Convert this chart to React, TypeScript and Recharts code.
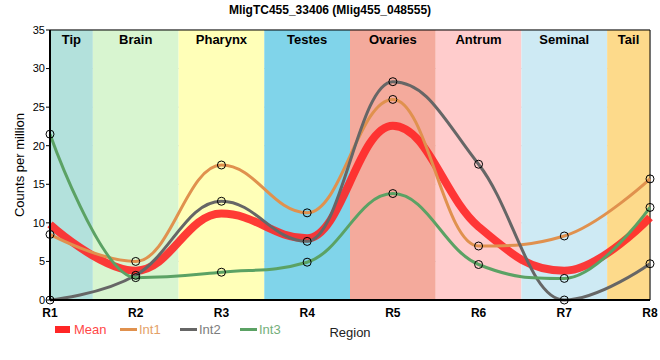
import { LineChart, Line, XAxis, YAxis, CartesianGrid, ReferenceArea, Legend } from "recharts";

const FONT = "'Liberation Sans', Arial, sans-serif";

const regions = ["R1", "R2", "R3", "R4", "R5", "R6", "R7", "R8"];
const meanValues = [9.8, 3.8, 11.2, 8.0, 22.6, 9.5, 3.8, 10.7];
const int1Values = [8.5, 5.0, 17.5, 11.3, 26.0, 7.0, 8.3, 15.7];
const int2Values = [0, 3.2, 12.8, 7.6, 28.3, 17.6, 0, 4.7];
const int3Values = [21.5, 2.9, 3.6, 4.9, 13.8, 4.6, 2.8, 12.0];

const yTicks = [0, 5, 10, 15, 20, 25, 30, 35];

const bandNames = ["Tip", "Brain", "Pharynx", "Testes", "Ovaries", "Antrum", "Seminal", "Tail"];
const bandStarts = [1, 1.5, 2.5, 3.5, 4.5, 5.5, 6.5, 7.5];
const bandEnds = [1.5, 2.5, 3.5, 4.5, 5.5, 6.5, 7.5, 8];
const bandColors = ["#b3e1dc", "#d8f5d0", "#ffffb8", "#80d4ea", "#f4aa9c", "#ffcccc", "#ceeaf4", "#fdda8b"];

const seriesNames = ["Mean", "Int1", "Int2", "Int3"];
const seriesColors = ["#ff2626", "#e0914e", "#666666", "#5ba264"];

// regions sit at x = 1..8 so the bands can start half way between them
const regionTicks = regions.map((_, i) => i + 1);

const data = regions.map((r, i) => ({
  x: i + 1,
  region: r,
  Mean: meanValues[i],
  Int1: int1Values[i],
  Int2: int2Values[i],
  Int3: int3Values[i],
}));

// smooth spline that never overshoots its neighbours (control points clamped)
const smoothCurve = (context: any) => {
  let xs: number[] = [];
  let ys: number[] = [];
  return {
    areaStart() {},
    areaEnd() {},
    lineStart() {
      xs = [];
      ys = [];
    },
    point(x: number, y: number) {
      xs.push(+x);
      ys.push(+y);
    },
    lineEnd() {
      const n = xs.length;
      if (!n) return;
      const smoothing = 1.5;
      const denom = smoothing + 1;
      const lx: number[] = [];
      const ly: number[] = [];
      const rx: number[] = [];
      const ry: number[] = [];
      for (let i = 0; i < n; i++) {
        if (i === 0 || i === n - 1) {
          lx[i] = rx[i] = xs[i];
          ly[i] = ry[i] = ys[i];
          continue;
        }
        const px = xs[i], py = ys[i];
        const lastX = xs[i - 1], lastY = ys[i - 1];
        const nextX = xs[i + 1], nextY = ys[i + 1];
        const lcx = (smoothing * px + lastX) / denom;
        let lcy = (smoothing * py + lastY) / denom;
        const rcx = (smoothing * px + nextX) / denom;
        let rcy = (smoothing * py + nextY) / denom;
        if (rcx !== lcx) {
          const corr = ((rcy - lcy) * (rcx - px)) / (rcx - lcx) + py - rcy;
          lcy += corr;
          rcy += corr;
        }
        if (lcy > lastY && lcy > py) {
          lcy = Math.max(lastY, py);
          rcy = 2 * py - lcy;
        } else if (lcy < lastY && lcy < py) {
          lcy = Math.min(lastY, py);
          rcy = 2 * py - lcy;
        }
        if (rcy > nextY && rcy > py) {
          rcy = Math.max(nextY, py);
          lcy = 2 * py - rcy;
        } else if (rcy < nextY && rcy < py) {
          rcy = Math.min(nextY, py);
          lcy = 2 * py - rcy;
        }
        lx[i] = lcx;
        ly[i] = lcy;
        rx[i] = rcx;
        ry[i] = rcy;
      }
      context.moveTo(xs[0], ys[0]);
      for (let i = 1; i < n; i++) {
        context.bezierCurveTo(rx[i - 1], ry[i - 1], lx[i], ly[i], xs[i], ys[i]);
      }
    },
  };
};

const dotStyle = { r: 4, fill: "none", stroke: "#000", strokeWidth: 1 };

const renderLegend = () => (
  <div style={{ display: "flex", alignItems: "center", fontFamily: FONT, fontSize: 13 }}>
    {seriesNames.map((name, i) => (
      <div key={name} style={{ width: i === 0 ? 65 : 60, display: "flex", alignItems: "center" }}>
        <span
          style={{
            display: "inline-block",
            width: i === 0 ? 15 : 17,
            height: i === 0 ? 7 : 3,
            background: seriesColors[i],
            marginRight: i === 0 ? 4 : 2,
          }}
        />
        <span style={{ color: seriesColors[i], opacity: 0.85 }}>{name}</span>
      </div>
    ))}
  </div>
);

export default function App() {
  return (
    <div style={{ position: "absolute", left: 0, top: 0, width: 660, height: 360, background: "#fff" }}>
      <div
        style={{
          position: "absolute",
          top: 2,
          left: 0,
          width: 660,
          textAlign: "center",
          fontFamily: FONT,
          fontWeight: "bold",
          fontSize: 12,
          lineHeight: "16px",
        }}
      >
        MligTC455_33406 (Mlig455_048555)
      </div>
      <LineChart width={660} height={360} data={data} margin={{ top: 30, right: 10, left: 0, bottom: 0 }}>
        {bandNames.map((name, i) => (
          <ReferenceArea
            key={name}
            x1={bandStarts[i]}
            x2={bandEnds[i]}
            y1={0}
            y2={35}
            fill={bandColors[i]}
            fillOpacity={1}
            stroke="none"
            label={{ value: name, position: "insideTop", fontFamily: FONT, fontWeight: "bold", fontSize: 13, fill: "#000" }}
          />
        ))}
        <CartesianGrid stroke="#cccccc" strokeWidth={1} />
        <ReferenceArea x1={1} x2={8} y1={0} y2={35} fill="none" stroke="#000" strokeWidth={1} />
        <XAxis
          dataKey="x"
          type="number"
          domain={[1, 8]}
          ticks={regionTicks}
          tickFormatter={(v) => regions[v - 1]}
          interval={0}
          height={60}
          axisLine={{ stroke: "#000", strokeWidth: 2 }}
          tickLine={false}
          tick={{ fontFamily: FONT, fontSize: 12, fontWeight: "bold", fill: "#000" }}
          tickMargin={2}
          label={{ value: "Region", position: "insideBottom", offset: 23, fontFamily: FONT, fontSize: 13, fill: "#222" }}
        />
        <YAxis
          type="number"
          domain={[0, 35]}
          ticks={yTicks}
          interval={0}
          width={50}
          axisLine={{ stroke: "#000", strokeWidth: 2 }}
          tickLine={{ stroke: "#000" }}
          tickSize={4}
          tick={{ fontFamily: FONT, fontSize: 11, fill: "#000" }}
          tickMargin={1}
          label={{
            value: "Counts per million",
            angle: -90,
            position: "insideLeft",
            offset: 19,
            style: { textAnchor: "middle" },
            fontFamily: FONT,
            fontSize: 13,
            fill: "#000",
          }}
        />
        <Legend
          layout="horizontal"
          verticalAlign="middle"
          align="center"
          content={renderLegend}
          wrapperStyle={{ top: 322, left: 55, width: 300, height: 16 }}
        />
        <Line
          dataKey="Mean"
          type={smoothCurve as any}
          stroke={seriesColors[0]}
          strokeWidth={8}
          strokeOpacity={0.9}
          dot={false}
          isAnimationActive={false}
        />
        <Line dataKey="Int1" type={smoothCurve as any} stroke={seriesColors[1]} strokeWidth={3} dot={dotStyle} isAnimationActive={false} />
        <Line dataKey="Int2" type={smoothCurve as any} stroke={seriesColors[2]} strokeWidth={3} dot={dotStyle} isAnimationActive={false} />
        <Line dataKey="Int3" type={smoothCurve as any} stroke={seriesColors[3]} strokeWidth={3} dot={dotStyle} isAnimationActive={false} />
      </LineChart>
    </div>
  );
}
